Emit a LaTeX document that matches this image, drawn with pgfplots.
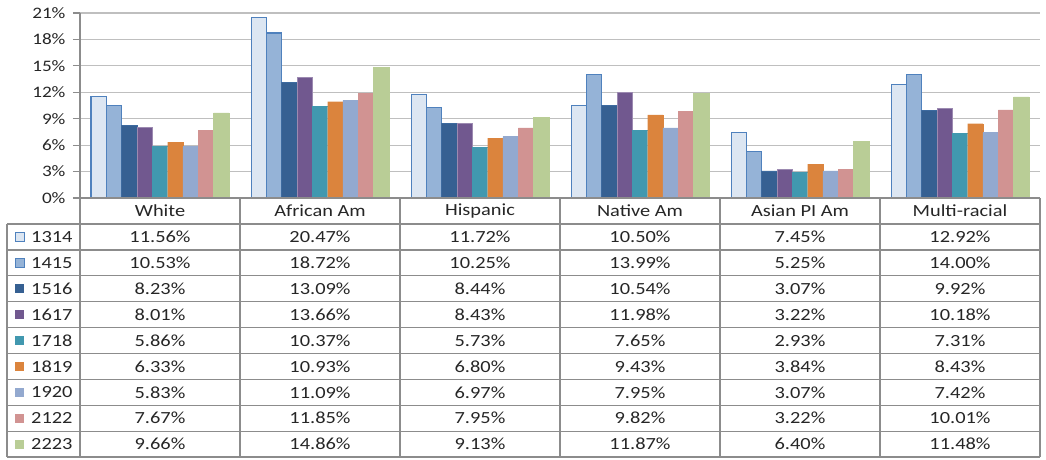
\documentclass[border=0pt]{standalone}
\usepackage{fontspec}
\setmainfont{Carlito}[FakeStretch=1.2]
\usepackage{pgfplots}
\usepackage{pgfplotstable}
\pgfplotsset{compat=1.18}
\pgfkeys{/pgf/number format/assume math mode=true}

\definecolor{c1314}{HTML}{DCE6F2}
\definecolor{c1415}{HTML}{95B3D7}
\definecolor{c1516}{HTML}{366092}
\definecolor{c1617}{HTML}{71588F}
\definecolor{c1718}{HTML}{4198AF}
\definecolor{c1819}{HTML}{DB843D}
\definecolor{c1920}{HTML}{93A9CF}
\definecolor{c2122}{HTML}{D19392}
\definecolor{c2223}{HTML}{B9CD96}
\definecolor{edgeblue}{HTML}{4F81BD}
\definecolor{gridgray}{HTML}{BFBFBF}
\definecolor{linegray}{HTML}{8C8C8C}
\definecolor{txt}{HTML}{262626}

% rate by group (percent), one row per group
\pgfplotstableread{
idx s1314 s1415 s1516 s1617 s1718 s1819 s1920 s2122 s2223
0 11.56 10.53 8.23 8.01 5.86 6.33 5.83 7.67 9.66
1 20.47 18.72 13.09 13.66 10.37 10.93 11.09 11.85 14.86
2 11.72 10.25 8.44 8.43 5.73 6.80 6.97 7.95 9.13
3 10.50 13.99 10.54 11.98 7.65 9.43 7.95 9.82 11.87
4 7.45 5.25 3.07 3.22 2.93 3.84 3.07 3.22 6.40
5 12.92 14.00 9.92 10.18 7.31 8.43 7.42 10.01 11.48
}\datatable

\begin{document}
\begin{tikzpicture}[x=1pt,y=1pt]
\useasboundingbox (0,-261) rectangle (1046,198);
\begin{axis}[
    at={(80pt,0pt)}, anchor=south west,
    scale only axis, width=960pt, height=185pt,
    ymin=0, ymax=21, ytick={0,3,...,21},
    xmin=-0.5, xmax=5.5, xtick=\empty,
    ybar=0pt, bar width=15.3pt,
    axis lines*=left,
    axis line style={-, linegray, line width=1.3pt},
    ymajorgrids, grid style={gridgray, line width=1.2pt},
    tick align=outside, major tick length=7pt,
    tick style={linegray, line width=1.2pt},
    yticklabel={\pgfmathprintnumber{\tick}\%},
    ticklabel style={font=\fontsize{16}{18}\selectfont, text=txt},
    yticklabel style={xshift=-4pt},
]
\addplot[fill=c1314, draw=edgeblue, line width=1.3pt] table[x=idx,y=s1314]{\datatable};
\addplot[fill=c1415, draw=edgeblue, line width=1.3pt] table[x=idx,y=s1415]{\datatable};
\addplot[fill=c1516, draw=c1516!70!edgeblue, line width=0.6pt] table[x=idx,y=s1516]{\datatable};
\addplot[fill=c1617, draw=c1617!70!white, line width=0.6pt] table[x=idx,y=s1617]{\datatable};
\addplot[fill=c1718, draw=c1718, line width=0.3pt] table[x=idx,y=s1718]{\datatable};
\addplot[fill=c1819, draw=c1819, line width=0.3pt] table[x=idx,y=s1819]{\datatable};
\addplot[fill=c1920, draw=c1920, line width=0.3pt] table[x=idx,y=s1920]{\datatable};
\addplot[fill=c2122, draw=c2122, line width=0.3pt] table[x=idx,y=s2122]{\datatable};
\addplot[fill=c2223, draw=c2223, line width=0.3pt] table[x=idx,y=s2223]{\datatable};
\end{axis}

% data table below the chart
\begin{scope}[linegray, line width=1.3pt]
\draw (80,0) -- (1040,0);
\foreach \k in {0,...,9} \draw (7,{-26-25.9*\k}) -- (1040,{-26-25.9*\k});
\draw (7,-26) -- (7,-259);
\foreach \xx in {80,240,400,560,720,880,1040} \draw (\xx,0) -- (\xx,-259);
\end{scope}

\begin{scope}[every node/.style={font=\fontsize{17}{19}\selectfont, text=txt, inner sep=0pt}]
\foreach \lab [count=\i from 0] in {White,African Am,Hispanic,Native Am,Asian PI Am,Multi-racial}
  \node at ({160+160*\i},-13) {\lab};
\foreach \name [count=\r from 0] in {1314,1415,1516,1617,1718,1819,1920,2122,2223} {
  \ifnum\r<2
    \filldraw[fill=c\name, draw=edgeblue, line width=1pt] (15,{-38.95-25.9*\r-4.5}) rectangle ++(9,9);
  \else
    \fill[c\name] (15,{-38.95-25.9*\r-4.5}) rectangle ++(9,9);
  \fi
  \node[anchor=west] at (31,{-38.95-25.9*\r}) {\name};
  \foreach \i in {0,...,5} {
    \pgfplotstablegetelem{\i}{s\name}\of\datatable
    \node at ({160+160*\i},{-38.95-25.9*\r})
      {\pgfmathprintnumber[fixed,fixed zerofill,precision=2]{\pgfplotsretval}\%};
  }
}
\end{scope}
\end{tikzpicture}
\end{document}
